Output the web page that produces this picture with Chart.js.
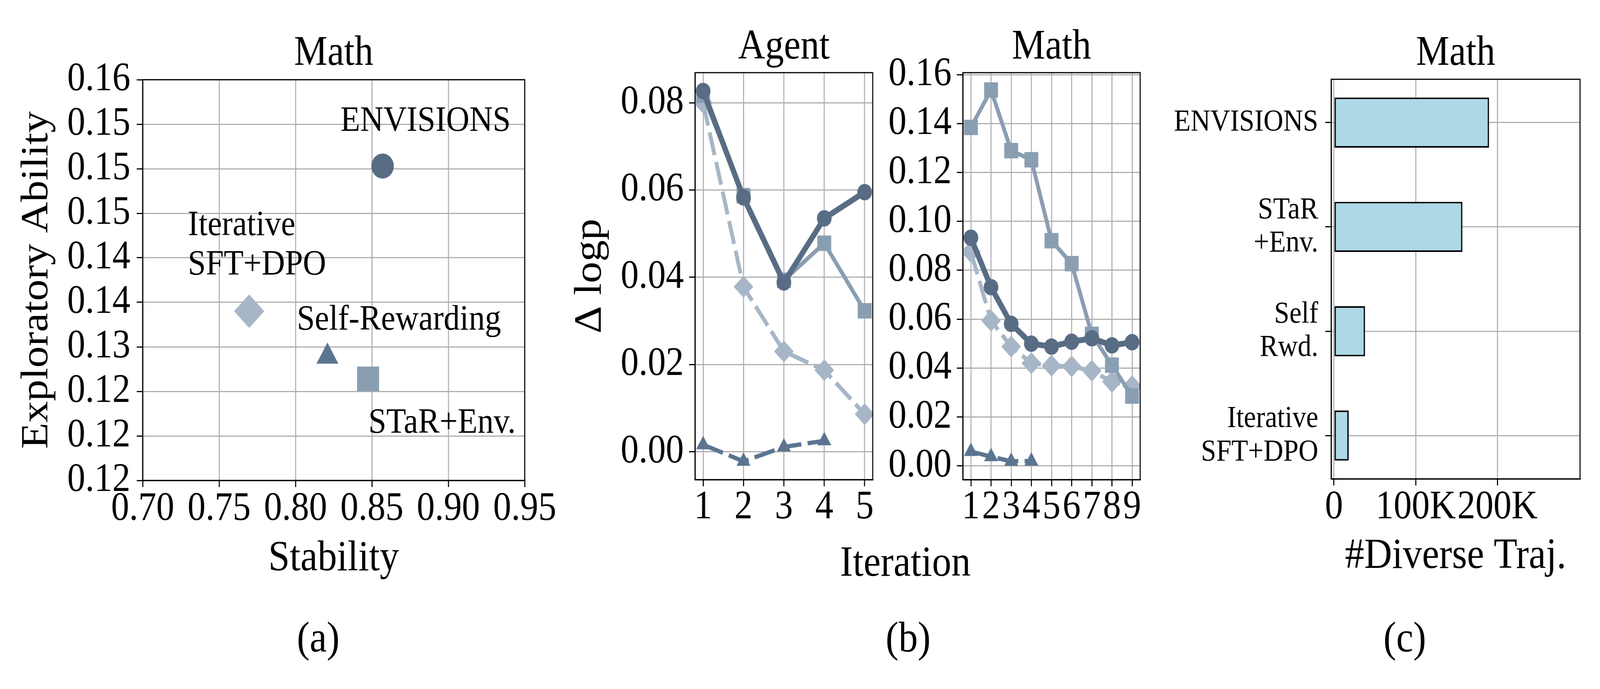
<!DOCTYPE html>
<html>
<head>
<meta charset="utf-8">
<script src="https://cdn.jsdelivr.net/npm/chart.js@4.4.1/dist/chart.umd.min.js"></script>
<style>
html,body{margin:0;padding:0;background:#fff;overflow:hidden;}
#wrap{position:absolute;left:0;top:0;width:4565px;height:1764px;overflow:hidden;background:#fff;transform-origin:0 0;}
#wrap canvas{position:absolute;left:0;top:0;width:4565px;height:1764px;}
.lbl{position:absolute;font-family:'Liberation Serif','Times New Roman',serif;font-size:110px;line-height:1;white-space:nowrap;transform:translateX(-50%);color:#000;}
</style>
</head>
<body>
<div id="wrap">
<canvas id="cA" width="4565" height="1764"></canvas>
<canvas id="cB1" width="4565" height="1764"></canvas>
<canvas id="cB2" width="4565" height="1764"></canvas>
<canvas id="cC" width="4565" height="1764"></canvas>
<div class="lbl" style="left:908px;top:1576px;">(a)</div>
<div class="lbl" style="left:2583px;top:1382px;">Iteration</div>
<div class="lbl" style="left:2591px;top:1576px;">(b)</div>
<div class="lbl" style="left:4008px;top:1576px;">(c)</div>
</div>
<script>
// ---------------- DATA ----------------
// (a) scatter: Stability vs Exploratory Ability (Math)
const methodsA = ['ENVISIONS', 'STaR+Env.', 'Iterative SFT+DPO', 'Self-Rewarding'];
const stabilityA = [0.857, 0.8475, 0.7697, 0.8209];
const exploreA = [0.1503, 0.1264, 0.1340, 0.1289];
const xTicksA = [0.70, 0.75, 0.80, 0.85, 0.90, 0.95];
const yTickValsA = [0.115, 0.120, 0.125, 0.130, 0.135, 0.140, 0.145, 0.150, 0.155, 0.160];
const yTickLabelsA = ['0.12', '0.12', '0.12', '0.13', '0.14', '0.14', '0.15', '0.15', '0.15', '0.16'];

// (b) delta logp per iteration
const agentIter = [1, 2, 3, 4, 5];
const agentEnvisions = [0.0827, 0.0583, 0.0388, 0.0535, 0.0595];
const agentStarEnv = [0.0817, 0.0587, 0.0393, 0.0478, 0.0323];
const agentSftDpo = [0.0800, 0.0378, 0.0230, 0.0187, 0.0086];
const agentSelfRwd = [0.0016, -0.0022, 0.0011, 0.0025];
const agentYTicks = [0.00, 0.02, 0.04, 0.06, 0.08];

const mathIter = [1, 2, 3, 4, 5, 6, 7, 8, 9];
const mathEnvisions = [0.0933, 0.0731, 0.0581, 0.0500, 0.0488, 0.0508, 0.0522, 0.0493, 0.0506];
const mathStarEnv = [0.1384, 0.1537, 0.1289, 0.1252, 0.0921, 0.0827, 0.0538, 0.0412, 0.0286];
const mathSftDpo = [0.0875, 0.0594, 0.0488, 0.0420, 0.0410, 0.0407, 0.0389, 0.0344, 0.0326];
const mathSelfRwd = [0.0059, 0.0038, 0.0019, 0.0020];
const mathYTicks = [0.00, 0.02, 0.04, 0.06, 0.08, 0.10, 0.12, 0.14, 0.16];

// (c) number of diverse trajectories (Math)
const barCategories = [['ENVISIONS'], ['STaR', '+Env.'], ['Self', 'Rwd.'], ['Iterative', 'SFT+DPO']];
const barValues = [189700, 157100, 38000, 18000];
const xTicksC = [0, 100000, 200000];
const xTickLabelsC = ['0', '100K', '200K'];

// text annotations in panel (a), anchored in data units
const annotA = [
  {text: 'ENVISIONS', x: 0.8851, y: 0.15425, align: 'center'},
  {text: 'Iterative', x: 0.7296, y: 0.14254, align: 'left'},
  {text: 'SFT+DPO', x: 0.7296, y: 0.13811, align: 'left'},
  {text: 'Self-Rewarding', x: 0.8009, y: 0.13193, align: 'left'},
  {text: 'STaR+Env.', x: 0.8477, y: 0.12035, align: 'left'}
];

// ---------------- PAGE FIT (figure is laid out on a 4565 x 1764 grid) ----------------
const W = 4565, H = 1764;
const sx = window.innerWidth / W, sy = window.innerHeight / H;
document.getElementById('wrap').style.transform = 'scale(' + sx + ',' + sy + ')';

// ---------------- STYLE ----------------
const FONT = "'Liberation Serif', 'Times New Roman', serif";
Chart.defaults.font.family = FONT;
Chart.defaults.color = '#000';
function f(size, lh) { return {family: FONT, size: size, weight: 'normal', lineHeight: lh || 1}; }
function gridOpts() { return {color: '#b0b0b0', lineWidth: 3, drawTicks: true, tickLength: 17, tickColor: '#000', tickWidth: 3, offset: false}; }
function borderOpts() { return {display: true, color: '#000', width: 3}; }
function fixedTicks(values) { return function (axis) { axis.ticks = values.map(v => ({value: v})); }; }

const C_ENV = '#586c84', C_STAR = '#8a9eb2', C_SFT = '#a6b6c6', C_SELF = '#5b7591';

const boxPlugin = {
  id: 'box',
  afterDatasetsDraw(chart) {
    const {ctx, chartArea: a} = chart;
    ctx.save();
    ctx.strokeStyle = '#000';
    ctx.lineWidth = 3;
    ctx.strokeRect(a.left, a.top, a.right - a.left, a.bottom - a.top);
    ctx.restore();
  }
};

const annotPlugin = {
  id: 'annot',
  afterDatasetsDraw(chart) {
    const {ctx, scales} = chart;
    ctx.save();
    ctx.fillStyle = '#000';
    ctx.font = 'normal 92px ' + FONT;
    ctx.textBaseline = 'alphabetic';
    annotA.forEach(a => {
      ctx.textAlign = a.align;
      ctx.fillText(a.text, scales.x.getPixelForValue(a.x), scales.y.getPixelForValue(a.y));
    });
    ctx.restore();
  }
};

const baseOpts = {responsive: false, animation: false, devicePixelRatio: 1, events: []};

// ---------------- (a) ----------------
const styleA = ['circle', 'rect', 'rectRot', 'triangle'];
const radiusA = [32, 44.5, 43, 36];
const colorA = [C_ENV, C_STAR, C_SFT, C_SELF];
new Chart(document.getElementById('cA'), {
  type: 'scatter',
  data: {
    datasets: methodsA.map((m, i) => ({
      label: m,
      data: [{x: stabilityA[i], y: exploreA[i]}],
      pointStyle: styleA[i], pointRadius: radiusA[i],
      backgroundColor: colorA[i], pointBackgroundColor: colorA[i],
      borderWidth: 0, pointBorderWidth: 0
    }))
  },
  options: Object.assign({}, baseOpts, {
    layout: {padding: {left: 7, right: 3068, top: 84.5, bottom: 234}},
    plugins: {
      legend: {display: false}, tooltip: {enabled: false},
      title: {display: true, text: 'Math', font: f(107), color: '#000', padding: {top: 0, bottom: 12.5}, fullSize: false}
    },
    scales: {
      x: {
        type: 'linear', min: 0.70, max: 0.95,
        afterBuildTicks: fixedTicks(xTicksA),
        afterFit: s => { s.height = 300; },
        grid: gridOpts(), border: borderOpts(),
        ticks: {font: f(103), color: '#000', padding: 5, autoSkip: false, maxRotation: 0, minRotation: 0, callback: v => v.toFixed(2)},
        title: {display: true, text: 'Stability', font: f(110), color: '#000', padding: {top: 0, bottom: 44}}
      },
      y: {
        type: 'linear', min: 0.115, max: 0.16,
        afterBuildTicks: fixedTicks(yTickValsA),
        afterFit: s => { s.width = 400; },
        grid: gridOpts(), border: borderOpts(),
        ticks: {font: f(103), color: '#000', padding: 18, autoSkip: false, callback: (v, i) => yTickLabelsA[i]},
        title: {display: true, text: 'Exploratory Ability', font: f(110), color: '#000', padding: {top: 44, bottom: 0}}
      }
    }
  }),
  plugins: [boxPlugin, annotPlugin]
});

// ---------------- (b) ----------------
function lineSets(xs, env, star, sft, self) {
  const pts = (arr) => arr.map((v, i) => ({x: xs[i], y: v}));
  return [
    {label: 'ENVISIONS', data: pts(env), borderColor: C_ENV, backgroundColor: C_ENV, pointBackgroundColor: C_ENV,
      borderWidth: 15, pointStyle: 'circle', pointRadius: 21, pointBorderWidth: 0, borderJoinStyle: 'round'},
    {label: 'STaR+Env.', data: pts(star), borderColor: C_STAR, backgroundColor: C_STAR, pointBackgroundColor: C_STAR,
      borderWidth: 11, pointStyle: 'rect', pointRadius: 28, pointBorderWidth: 0, borderJoinStyle: 'round'},
    {label: 'Iterative SFT+DPO', data: pts(sft), borderColor: C_SFT, backgroundColor: C_SFT, pointBackgroundColor: C_SFT,
      borderWidth: 11, borderDash: [60, 18], pointStyle: 'rectRot', pointRadius: 28, pointBorderWidth: 0, borderJoinStyle: 'round'},
    {label: 'Self-Rewarding', data: pts(self), borderColor: C_SELF, backgroundColor: C_SELF, pointBackgroundColor: C_SELF,
      borderWidth: 11, borderDash: [60, 18], pointStyle: 'triangle', pointRadius: 23, pointBorderWidth: 0, borderJoinStyle: 'round'}
  ];
}

function lineChart(id, xs, sets, xmin, xmax, ymin, ymax, yTicks, pad, title, ytitle) {
  new Chart(document.getElementById(id), {
    type: 'line',
    data: {datasets: sets},
    options: Object.assign({}, baseOpts, {
      layout: {padding: pad},
      plugins: {
        legend: {display: false}, tooltip: {enabled: false},
        title: {display: true, text: title, font: f(107), color: '#000', padding: {top: 0, bottom: 10.5}, fullSize: false}
      },
      scales: {
        x: {
          type: 'linear', min: xmin, max: xmax,
          afterBuildTicks: fixedTicks(xs),
          afterFit: s => { s.height = 300; },
          grid: gridOpts(), border: borderOpts(),
          ticks: {font: f(103), color: '#000', padding: 3, autoSkip: false, maxRotation: 0, minRotation: 0, callback: v => String(v)}
        },
        y: {
          type: 'linear', min: ymin, max: ymax,
          afterBuildTicks: fixedTicks(yTicks),
          afterFit: s => { s.width = 400; },
          grid: gridOpts(), border: borderOpts(),
          ticks: {font: f(103), color: '#000', padding: 15, autoSkip: false, callback: v => v.toFixed(2)},
          title: {display: !!ytitle, text: ytitle || '', font: f(110), color: '#000', padding: {top: 47, bottom: 0}}
        }
      }
    }),
    plugins: [boxPlugin]
  });
}

lineChart('cB1', agentIter, lineSets(agentIter, agentEnvisions, agentStarEnv, agentSftDpo, agentSelfRwd),
  0.8, 5.2, -0.0064, 0.0869, agentYTicks, {left: 1583, right: 2075, top: 68.5, bottom: 236}, 'Agent', 'Δ logp');
lineChart('cB2', mathIter, lineSets(mathIter, mathEnvisions, mathStarEnv, mathSftDpo, mathSelfRwd),
  0.6, 9.4, -0.0056, 0.1608, mathYTicks, {left: 2347, right: 1312, top: 68.5, bottom: 236}, 'Math', '');

// ---------------- (c) ----------------
new Chart(document.getElementById('cC'), {
  type: 'bar',
  data: {
    datasets: [{
      label: '#Diverse Traj.',
      data: barValues.map((v, i) => ({x: v, y: i})),
      backgroundColor: '#add8e6', borderColor: '#000', borderWidth: 4, borderSkipped: false,
      categoryPercentage: 1, barPercentage: 0.48
    }]
  },
  options: Object.assign({}, baseOpts, {
    indexAxis: 'y',
    layout: {padding: {left: 3198, right: 57, top: 84.5, bottom: 238}},
    plugins: {
      legend: {display: false}, tooltip: {enabled: false},
      title: {display: true, text: 'Math', font: f(107), color: '#000', padding: {top: 0, bottom: 11.5}, fullSize: false}
    },
    scales: {
      x: {
        type: 'linear', min: -3400, max: 301000, offset: false,
        afterBuildTicks: fixedTicks(xTicksC),
        afterFit: s => { s.height = 300; },
        grid: gridOpts(), border: borderOpts(),
        ticks: {font: f(103), color: '#000', padding: 5, autoSkip: false, maxRotation: 0, minRotation: 0, callback: (v, i) => xTickLabelsC[i]},
        title: {display: true, text: '#Diverse Traj.', font: f(110), color: '#000', padding: {top: 0, bottom: 46}}
      },
      y: {
        type: 'linear', reverse: true, min: -0.415, max: 3.415, offset: false,
        afterBuildTicks: fixedTicks(barCategories.map((c, i) => i)),
        afterFit: s => { s.width = 600; },
        grid: gridOpts(), border: borderOpts(),
        ticks: {font: f(78, 1.1), color: '#000', padding: 20, autoSkip: false, callback: v => barCategories[Math.round(v)]}
      }
    }
  }),
  plugins: [boxPlugin]
});
</script>
</body>
</html>
